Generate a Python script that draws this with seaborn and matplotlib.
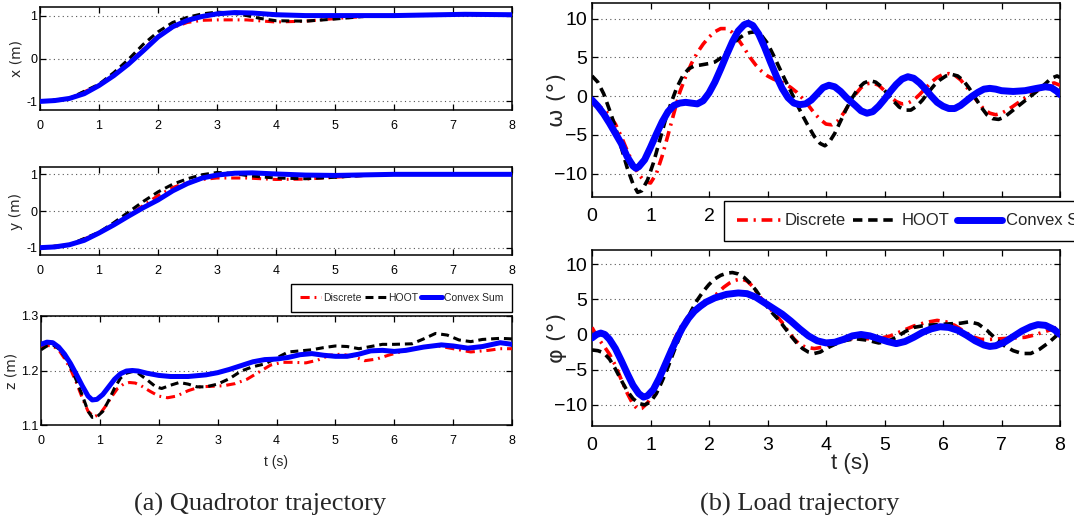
import numpy as np
import pandas as pd
import matplotlib
matplotlib.use("Agg")
import matplotlib.pyplot as plt
import seaborn as sns
from matplotlib.lines import Line2D

# ---------------- data ----------------
series_names = ["Discrete", "HOOT", "Convex Sum"]

# x (m)
x_t_red = [0, 0.5, 1.0, 1.25, 1.5, 1.75, 2.0, 2.25, 2.5, 2.75, 3.0, 3.5, 4.0, 4.5, 5.0, 5.5, 6.0, 7.0, 8.0]
x_v_red = [-1, -0.93, -0.62, -0.38, -0.12, 0.22, 0.52, 0.72, 0.84, 0.89, 0.9, 0.9, 0.85, 0.87, 0.93, 0.98, 1.0, 1.02, 1.02]
x_t_blk = [0, 0.5, 1.0, 1.25, 1.5, 1.75, 2.0, 2.25, 2.5, 2.75, 3.0, 3.25, 3.5, 3.75, 4.0, 4.5, 5.0, 5.5, 6.0, 7.0, 8.0]
x_v_blk = [-1, -0.93, -0.6, -0.33, -0.02, 0.33, 0.62, 0.84, 0.96, 1.04, 1.08, 1.06, 1.0, 0.93, 0.88, 0.87, 0.92, 0.98, 1.0, 1.02, 1.02]
x_t_blu = [0, 0.25, 0.5, 0.75, 1.0, 1.25, 1.5, 1.75, 2.0, 2.25, 2.5, 2.75, 3.0, 3.3, 3.6, 4.0, 4.5, 5.0, 6.0, 7.2, 8.0]
x_v_blu = [-1, -0.98, -0.93, -0.82, -0.63, -0.4, -0.13, 0.18, 0.5, 0.74, 0.89, 0.98, 1.04, 1.07, 1.06, 1.02, 1.0, 1.0, 1.0, 1.03, 1.02]

# y (m)
y_t_red = [0, 0.5, 1.0, 1.25, 1.5, 1.75, 2.0, 2.25, 2.5, 2.75, 3.0, 3.5, 4.0, 4.5, 5.0, 5.5, 6.0, 7.0, 8.0]
y_v_red = [-1, -0.92, -0.6, -0.38, -0.12, 0.15, 0.42, 0.64, 0.78, 0.86, 0.9, 0.9, 0.86, 0.87, 0.92, 0.97, 1.0, 1.0, 1.0]
y_t_blk = [0, 0.5, 1.0, 1.25, 1.5, 1.75, 2.0, 2.25, 2.5, 2.75, 3.0, 3.25, 3.5, 3.75, 4.0, 4.5, 5.0, 5.5, 6.0, 7.0, 8.0]
y_v_blk = [-1, -0.92, -0.58, -0.32, -0.03, 0.26, 0.52, 0.73, 0.88, 0.99, 1.05, 1.03, 0.97, 0.93, 0.9, 0.88, 0.92, 0.97, 1.0, 1.0, 1.0]
y_t_blu = [0, 0.25, 0.5, 0.75, 1.0, 1.25, 1.5, 1.75, 2.0, 2.25, 2.5, 2.75, 3.0, 3.3, 3.6, 4.0, 4.5, 5.0, 6.0, 7.0, 8.0]
y_v_blu = [-1, -0.98, -0.92, -0.8, -0.6, -0.38, -0.14, 0.09, 0.3, 0.55, 0.75, 0.9, 0.98, 1.03, 1.04, 1.01, 0.98, 0.97, 1.0, 1.0, 1.0]

# z (m)
z_t_red = [0, 0.1, 0.2, 0.3, 0.4, 0.5, 0.6, 0.7, 0.8, 0.9, 1.0, 1.1, 1.2, 1.3, 1.4, 1.5, 1.6, 1.7, 1.85, 2.0, 2.15, 2.3, 2.5, 2.7, 2.9, 3.1, 3.3, 3.5, 3.7, 3.9, 4.1, 4.3, 4.5, 4.7, 4.9, 5.1, 5.3, 5.5, 5.7, 5.9, 6.1, 6.4, 6.7, 7.0, 7.3, 7.6, 7.8, 8.0]
z_v_red = [1.242, 1.246, 1.245, 1.238, 1.222, 1.203, 1.178, 1.150, 1.125, 1.115, 1.120, 1.135, 1.152, 1.167, 1.175, 1.178, 1.177, 1.172, 1.162, 1.153, 1.150, 1.153, 1.163, 1.170, 1.171, 1.172, 1.176, 1.184, 1.197, 1.210, 1.215, 1.215, 1.214, 1.219, 1.228, 1.230, 1.226, 1.218, 1.221, 1.228, 1.234, 1.242, 1.246, 1.240, 1.234, 1.237, 1.240, 1.240]
z_t_blk = [0, 0.1, 0.2, 0.3, 0.4, 0.5, 0.6, 0.7, 0.8, 0.87, 0.95, 1.05, 1.15, 1.25, 1.35, 1.45, 1.55, 1.65, 1.8, 1.95, 2.05, 2.2, 2.35, 2.5, 2.65, 2.8, 3.0, 3.2, 3.4, 3.6, 3.8, 4.0, 4.2, 4.4, 4.6, 4.8, 5.0, 5.2, 5.4, 5.6, 5.8, 6.0, 6.3, 6.5, 6.7, 6.9, 7.1, 7.3, 7.5, 7.8, 8.0]
z_v_blk = [1.238, 1.245, 1.247, 1.240, 1.226, 1.207, 1.182, 1.155, 1.125, 1.114, 1.115, 1.125, 1.145, 1.168, 1.186, 1.195, 1.198, 1.195, 1.183, 1.170, 1.167, 1.173, 1.178, 1.175, 1.170, 1.170, 1.175, 1.185, 1.199, 1.207, 1.212, 1.223, 1.234, 1.236, 1.238, 1.242, 1.245, 1.244, 1.240, 1.244, 1.248, 1.248, 1.249, 1.258, 1.268, 1.265, 1.256, 1.253, 1.257, 1.259, 1.258]
z_t_blu = [0, 0.1, 0.2, 0.3, 0.4, 0.5, 0.6, 0.7, 0.8, 0.87, 0.95, 1.05, 1.15, 1.25, 1.35, 1.45, 1.55, 1.65, 1.8, 2.0, 2.2, 2.5, 2.8, 3.0, 3.2, 3.4, 3.6, 3.8, 4.0, 4.2, 4.4, 4.6, 4.8, 5.0, 5.2, 5.4, 5.6, 5.8, 6.0, 6.2, 6.5, 6.8, 7.0, 7.25, 7.5, 7.8, 8.0]
z_v_blu = [1.248, 1.252, 1.251, 1.243, 1.230, 1.213, 1.193, 1.172, 1.153, 1.146, 1.147, 1.156, 1.170, 1.184, 1.194, 1.199, 1.200, 1.199, 1.195, 1.191, 1.189, 1.189, 1.192, 1.196, 1.202, 1.209, 1.216, 1.220, 1.221, 1.224, 1.229, 1.231, 1.228, 1.226, 1.226, 1.230, 1.236, 1.237, 1.235, 1.237, 1.243, 1.247, 1.245, 1.241, 1.244, 1.251, 1.248]

# omega (deg)
w_t_red = [0, 0.1, 0.2, 0.3, 0.4, 0.5, 0.6, 0.7, 0.8, 0.9, 1.0, 1.1, 1.2, 1.3, 1.4, 1.5, 1.6, 1.7, 1.8, 1.9, 2.0, 2.1, 2.2, 2.3, 2.4, 2.5, 2.6, 2.7, 2.8, 2.9, 3.0, 3.1, 3.2, 3.3, 3.4, 3.5, 3.6, 3.7, 3.8, 3.9, 4.0, 4.1, 4.2, 4.3, 4.4, 4.5, 4.6, 4.7, 4.8, 4.9, 5.0, 5.1, 5.2, 5.3, 5.4, 5.5, 5.6, 5.7, 5.8, 5.9, 6.0, 6.1, 6.2, 6.3, 6.4, 6.5, 6.6, 6.7, 6.8, 6.9, 7.0, 7.1, 7.2, 7.35, 7.5, 7.65, 7.8, 7.9, 8.0]
w_v_red = [-1.0, -1.2, -1.7, -2.5, -3.6, -5.2, -7.0, -8.7, -10.1, -11.0, -11.2, -10.0, -7.7, -5.0, -2.2, 0.5, 2.5, 4.2, 5.6, 6.7, 7.6, 8.3, 8.7, 8.7, 8.2, 7.3, 6.2, 5.0, 4.0, 3.2, 2.6, 2.2, 1.9, 1.6, 1.1, 0.5, -0.3, -1.2, -2.2, -3.0, -3.6, -3.7, -3.2, -2.2, -1.0, 0.2, 1.1, 1.6, 1.7, 1.4, 0.7, -0.1, -0.7, -1.0, -0.9, -0.5, 0.2, 1.0, 1.8, 2.4, 2.8, 2.9, 2.7, 2.1, 1.2, 0.2, -0.8, -1.7, -2.2, -2.4, -2.2, -1.8, -1.3, -0.5, 0.2, 0.9, 1.5, 1.7, 1.4]
w_t_blk = [0, 0.1, 0.2, 0.3, 0.4, 0.5, 0.6, 0.7, 0.78, 0.85, 0.95, 1.05, 1.15, 1.25, 1.35, 1.45, 1.55, 1.65, 1.75, 1.85, 2.0, 2.1, 2.2, 2.3, 2.4, 2.5, 2.6, 2.7, 2.8, 2.9, 3.0, 3.1, 3.2, 3.3, 3.4, 3.5, 3.6, 3.7, 3.8, 3.9, 3.98, 4.05, 4.15, 4.25, 4.35, 4.45, 4.55, 4.65, 4.75, 4.85, 4.95, 5.05, 5.15, 5.25, 5.35, 5.45, 5.55, 5.65, 5.75, 5.85, 5.95, 6.05, 6.15, 6.25, 6.35, 6.45, 6.55, 6.65, 6.75, 6.85, 6.95, 7.05, 7.15, 7.3, 7.45, 7.6, 7.75, 7.85, 7.95, 8.0]
w_v_blk = [2.6, 1.8, 0.3, -1.8, -4.0, -6.6, -9.2, -11.3, -12.4, -12.2, -10.8, -8.6, -5.9, -3.2, -0.9, 1.1, 2.6, 3.5, 3.9, 4.0, 4.2, 4.4, 4.9, 5.7, 6.6, 7.4, 7.9, 8.2, 8.3, 7.8, 6.8, 5.3, 3.7, 2.1, 0.6, -1.0, -2.5, -3.9, -5.2, -6.1, -6.4, -6.0, -4.8, -3.2, -1.6, -0.2, 1.0, 1.7, 2.0, 1.8, 1.2, 0.3, -0.6, -1.4, -1.8, -1.8, -1.3, -0.5, 0.5, 1.4, 2.1, 2.6, 2.8, 2.6, 2.0, 1.0, -0.2, -1.4, -2.4, -2.9, -3.0, -2.7, -2.1, -1.2, -0.3, 0.6, 1.6, 2.3, 2.6, 2.4]
w_t_blu = [0, 0.1, 0.2, 0.3, 0.4, 0.5, 0.6, 0.7, 0.75, 0.8, 0.9, 1.0, 1.1, 1.2, 1.3, 1.4, 1.5, 1.6, 1.7, 1.8, 1.9, 2.0, 2.1, 2.2, 2.3, 2.4, 2.5, 2.6, 2.67, 2.75, 2.85, 2.95, 3.05, 3.15, 3.25, 3.35, 3.45, 3.55, 3.65, 3.75, 3.85, 3.95, 4.05, 4.15, 4.25, 4.35, 4.5, 4.6, 4.7, 4.8, 4.9, 5.0, 5.1, 5.2, 5.3, 5.4, 5.5, 5.6, 5.7, 5.8, 5.9, 6.0, 6.1, 6.2, 6.3, 6.4, 6.5, 6.6, 6.7, 6.8, 6.9, 7.0, 7.2, 7.4, 7.6, 7.75, 7.85, 7.95, 8.0]
w_v_blu = [-0.5, -1.3, -2.3, -3.5, -4.8, -6.1, -7.8, -9.0, -9.3, -9.1, -8.2, -6.6, -4.9, -3.3, -2.0, -1.2, -0.9, -0.8, -0.9, -1.0, -0.6, 0.4, 1.8, 3.5, 5.3, 7.0, 8.4, 9.2, 9.4, 9.1, 8.0, 6.3, 4.4, 2.6, 1.0, -0.2, -0.9, -1.1, -1.0, -0.5, 0.3, 1.1, 1.4, 1.2, 0.6, -0.2, -1.2, -1.9, -2.2, -2.0, -1.3, -0.4, 0.6, 1.5, 2.2, 2.5, 2.3, 1.7, 0.9, 0.0, -0.8, -1.3, -1.6, -1.6, -1.2, -0.6, 0.0, 0.5, 0.9, 1.0, 0.9, 0.7, 0.6, 0.7, 1.0, 1.2, 1.1, 0.6, 0.2]

# phi (deg)
p_t_red = [0, 0.1, 0.2, 0.3, 0.4, 0.5, 0.6, 0.7, 0.78, 0.85, 0.95, 1.05, 1.15, 1.25, 1.35, 1.45, 1.55, 1.65, 1.75, 1.85, 1.95, 2.05, 2.15, 2.25, 2.35, 2.45, 2.55, 2.65, 2.75, 2.85, 2.95, 3.05, 3.15, 3.25, 3.35, 3.45, 3.55, 3.65, 3.8, 3.95, 4.1, 4.3, 4.5, 4.7, 4.9, 5.1, 5.3, 5.5, 5.7, 5.9, 6.05, 6.2, 6.35, 6.5, 6.65, 6.8, 7.0, 7.2, 7.4, 7.55, 7.7, 7.85, 8.0]
p_v_red = [1.0, -0.5, -1.6, -2.8, -4.4, -6.4, -8.3, -9.9, -10.6, -10.5, -9.7, -8.3, -6.4, -4.2, -1.9, 0.0, 1.5, 2.6, 3.3, 3.8, 4.4, 5.1, 5.9, 6.7, 7.3, 7.7, 7.9, 7.6, 6.8, 5.6, 4.5, 3.6, 2.7, 1.7, 0.5, -0.6, -1.4, -1.8, -2.0, -1.8, -1.3, -0.8, -0.5, -0.6, -0.6, -0.2, 0.5, 1.2, 1.7, 2.0, 1.8, 1.3, 0.5, -0.3, -0.7, -0.7, -0.6, -0.5, -0.4, -0.1, 0.3, 0.7, 1.2]
p_t_blk = [0, 0.1, 0.2, 0.3, 0.4, 0.5, 0.6, 0.7, 0.8, 0.9, 1.0, 1.1, 1.2, 1.3, 1.4, 1.5, 1.6, 1.7, 1.8, 1.9, 2.0, 2.1, 2.2, 2.3, 2.4, 2.5, 2.6, 2.7, 2.8, 2.9, 3.0, 3.1, 3.2, 3.3, 3.4, 3.5, 3.6, 3.7, 3.8, 3.9, 4.0, 4.15, 4.3, 4.5, 4.7, 4.9, 5.05, 5.2, 5.35, 5.5, 5.7, 5.9, 6.1, 6.3, 6.45, 6.6, 6.75, 6.9, 7.05, 7.2, 7.35, 7.5, 7.65, 7.8, 7.95, 8.0]
p_v_blk = [-2.2, -2.3, -2.6, -3.5, -4.9, -6.5, -8.0, -9.1, -9.8, -10.0, -9.6, -8.4, -6.6, -4.6, -2.4, -0.3, 1.7, 3.4, 4.9, 6.1, 7.1, 7.9, 8.4, 8.7, 8.8, 8.6, 8.1, 7.3, 6.3, 5.1, 3.9, 2.9, 2.0, 0.9, -0.2, -1.2, -2.0, -2.5, -2.7, -2.5, -2.0, -1.4, -0.9, -0.6, -0.8, -1.2, -1.0, -0.4, 0.4, 1.0, 1.3, 1.4, 1.5, 1.6, 1.8, 1.5, 0.6, -0.6, -1.6, -2.3, -2.7, -2.7, -2.1, -1.2, -0.1, 0.2]
p_t_blu = [0, 0.08, 0.15, 0.22, 0.3, 0.4, 0.5, 0.6, 0.7, 0.8, 0.88, 0.95, 1.05, 1.15, 1.25, 1.35, 1.45, 1.55, 1.65, 1.75, 1.85, 1.95, 2.1, 2.3, 2.5, 2.65, 2.8, 2.95, 3.1, 3.25, 3.4, 3.55, 3.7, 3.85, 4.0, 4.15, 4.3, 4.45, 4.6, 4.75, 4.9, 5.05, 5.2, 5.35, 5.5, 5.65, 5.8, 5.95, 6.1, 6.25, 6.4, 6.55, 6.7, 6.8, 6.9, 7.05, 7.2, 7.35, 7.5, 7.62, 7.75, 7.9, 8.0]
p_v_blu = [-0.5, 0.0, 0.2, 0.0, -0.7, -2.0, -3.7, -5.5, -7.2, -8.4, -8.9, -8.7, -7.8, -6.2, -4.3, -2.4, -0.6, 1.0, 2.3, 3.3, 4.0, 4.6, 5.2, 5.7, 5.9, 5.8, 5.3, 4.5, 3.7, 2.9, 1.9, 0.8, -0.2, -0.9, -1.2, -1.1, -0.7, -0.2, 0.0, -0.2, -0.6, -1.0, -1.3, -1.0, -0.4, 0.3, 0.8, 1.1, 1.0, 0.6, -0.1, -0.9, -1.5, -1.7, -1.6, -1.1, -0.3, 0.5, 1.1, 1.4, 1.3, 0.7, 0.0]

x_ticks = [0, 1, 2, 3, 4, 5, 6, 7, 8]
captions = ["(a) Quadrotor trajectory", "(b) Load trajectory"]

# ---------------- styling ----------------
sns.set_style("ticks")
plt.rcParams["font.family"] = ["Liberation Sans", "DejaVu Sans"]
plt.rcParams["axes.unicode_minus"] = True

W, H = 1074, 525
fig = plt.figure(figsize=(W / 100, H / 100), dpi=100)

def rect(l, t, r, b):
    return [l / W, 1 - b / H, (r - l) / W, (b - t) / H]

ax_x = fig.add_axes(rect(40, 7, 512, 110))
ax_y = fig.add_axes(rect(40, 167, 512, 255))
ax_z = fig.add_axes(rect(41, 316, 512, 425))
ax_w = fig.add_axes(rect(592, 3, 1060, 197))
ax_p = fig.add_axes(rect(592, 250, 1060, 426))

RED, BLK, BLU = "#ff0000", "#000000", "#0000ff"
DASHDOT = (0, (3.0, 1.6, 0.6, 1.6))
DASH = (0, (2.6, 1.6))

def draw(ax, tr, vr, tb, vb, tu, vu, lw_thin, lw_thick):
    sns.lineplot(x=tr, y=vr, ax=ax, color=RED, lw=lw_thin, linestyle=DASHDOT, sort=False, zorder=3)
    sns.lineplot(x=tb, y=vb, ax=ax, color=BLK, lw=lw_thin, linestyle=DASH, sort=False, zorder=4)
    sns.lineplot(x=tu, y=vu, ax=ax, color=BLU, lw=lw_thick, sort=False, zorder=5,
                 solid_capstyle="round", solid_joinstyle="round")

def style(ax, ylim, yticks, ylabel, tick_fs, label_fs, ylabel_pad):
    ax.set_xlim(0, 8)
    ax.set_ylim(*ylim)
    ax.set_xticks(x_ticks)
    ax.set_yticks(yticks)
    ax.yaxis.grid(True, linestyle=(0, (1, 3)), color="#555555", lw=0.8)
    ax.xaxis.grid(False)
    ax.tick_params(direction="in", top=True, right=True, length=4, width=0.9,
                   labelsize=tick_fs, colors="black")
    for s in ax.spines.values():
        s.set_color("black")
        s.set_linewidth(1.1)
    ax.set_ylabel(ylabel, fontsize=label_fs, labelpad=ylabel_pad, family=["DejaVu Sans"])
    ax.set_xlabel("")

draw(ax_x, x_t_red, x_v_red, x_t_blk, x_v_blk, x_t_blu, x_v_blu, 2.2, 3.6)
draw(ax_y, y_t_red, y_v_red, y_t_blk, y_v_blk, y_t_blu, y_v_blu, 2.2, 3.6)
draw(ax_z, z_t_red, z_v_red, z_t_blk, z_v_blk, z_t_blu, z_v_blu, 2.2, 3.6)
draw(ax_w, w_t_red, w_v_red, w_t_blk, w_v_blk, w_t_blu, w_v_blu, 2.6, 5.0)
draw(ax_p, p_t_red, p_v_red, p_t_blk, p_v_blk, p_t_blu, p_v_blu, 2.6, 5.0)

style(ax_x, (-1.2, 1.2), [-1, 0, 1], "x (m)", 9, 10, 2)
style(ax_y, (-1.2, 1.2), [-1, 0, 1], "y (m)", 9, 10, 2)
style(ax_z, (1.1, 1.3), [1.1, 1.2, 1.3], "z (m)", 9, 10, 2)
style(ax_w, (-13, 12), [-10, -5, 0, 5, 10], "ω (°)", 14, 16, 0)
style(ax_p, (-13, 12), [-10, -5, 0, 5, 10], "φ (°)", 14, 16, 0)
for ax in (ax_x, ax_y, ax_z):
    ax.tick_params(axis="x", pad=7)
    ax.tick_params(axis="y", pad=2)
    ax.set_yticklabels([f"{v:g}" for v in ax.get_yticks()])
for ax in (ax_w, ax_p):
    ax.tick_params(axis="x", pad=8)
    ax.yaxis.set_label_coords((567 - 592) / 468, 0.5)
# the legend covers the omega tick labels beyond 2 in the reference
ax_w.set_xticklabels([str(v) if v <= 2 else "" for v in x_ticks])

ax_z.set_xlabel("t (s)", fontsize=10, labelpad=6)
fig.text(850 / W, 1 - 463 / H, "t (s)", fontsize=16, ha="center", va="center")

# legends
handles_small = [Line2D([], [], color=RED, lw=2.2, linestyle=DASHDOT),
                 Line2D([], [], color=BLK, lw=2.2, linestyle=DASH),
                 Line2D([], [], color=BLU, lw=3.6)]
leg1 = fig.legend(handles_small, series_names, loc="upper right",
                  bbox_to_anchor=(512 / W, 1 - 284 / H), ncol=3, fontsize=7.5,
                  frameon=True, fancybox=False, edgecolor="black", framealpha=1,
                  handlelength=2.0, handletextpad=0.2, columnspacing=0.3,
                  borderpad=0.85, borderaxespad=0)
leg1.get_frame().set_linewidth(1.0)

handles_big = [Line2D([], [], color=RED, lw=2.6, linestyle=DASHDOT),
               Line2D([], [], color=BLK, lw=2.6, linestyle=DASH),
               Line2D([], [], color=BLU, lw=5.0)]
leg2 = fig.legend(handles_big, series_names, loc="upper left",
                  bbox_to_anchor=(724 / W, 1 - 201 / H), ncol=3, fontsize=12,
                  frameon=True, fancybox=False, edgecolor="black", framealpha=1,
                  handlelength=2.7, handletextpad=0.2, columnspacing=0.45,
                  borderpad=0.75, borderaxespad=0)
leg2.get_frame().set_linewidth(1.0)
leg2.set_zorder(10)

for cap, cx in zip(captions, [260, 800]):
    fig.text(cx / W, 1 - 504 / H, cap, fontsize=19, ha="center", va="center",
             family=["Liberation Serif", "DejaVu Serif"])

fig.savefig("out.png", dpi=100)
